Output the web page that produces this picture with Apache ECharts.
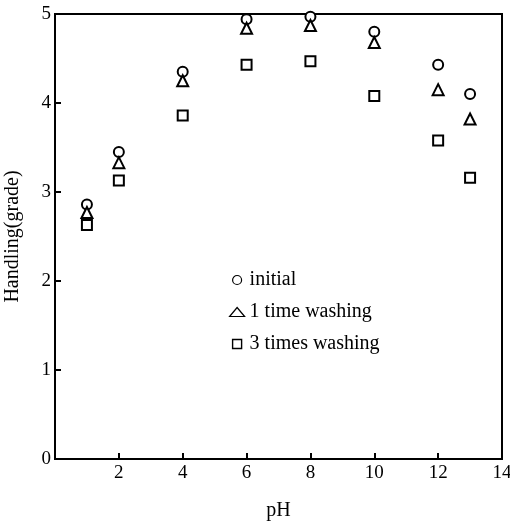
<!DOCTYPE html>
<html>
<head>
<meta charset="utf-8">
<script src="https://cdn.jsdelivr.net/npm/echarts@6/dist/echarts.min.js"></script>
<style>html,body{margin:0;padding:0;background:#fff}#c{width:510px;height:521px}</style>
</head>
<body>
<div id="c"></div>
<script>
var pH = [1, 2, 4, 6, 8, 10, 12, 13];
var initial = [2.86, 3.45, 4.35, 4.94, 4.97, 4.80, 4.43, 4.10];
var oneWash = [2.77, 3.33, 4.25, 4.84, 4.87, 4.68, 4.15, 3.82];
var threeWash = [2.63, 3.13, 3.86, 4.43, 4.47, 4.08, 3.58, 3.16];
var seriesNames = ['initial', '1 time washing', '3 times washing'];
var xTicks = [0, 2, 4, 6, 8, 10, 12, 14];
var yTicks = [0, 1, 2, 3, 4, 5];

function pairs(ys) { return pH.map(function (x, i) { return [x, ys[i]]; }); }
var font = 'Liberation Serif, Times New Roman, serif';
var squarePath = 'path://M0,0L10,0L10,10L0,10Z';
var mk = function (name, ys, symbol, size) {
  return {
    name: name, type: 'scatter', data: pairs(ys), symbol: symbol, symbolSize: size,
    itemStyle: { color: '#fff', borderColor: '#000', borderWidth: 2, opacity: 1 },
    emphasis: { disabled: true }
  };
};
var chart = echarts.init(document.getElementById('c'));
chart.setOption({
  animation: false,
  backgroundColor: '#fff',
  grid: { left: 55, right: 8, top: 14, bottom: 62, outerBoundsMode: 'none', containLabel: false,
    show: true, borderColor: '#000', borderWidth: 2, backgroundColor: 'transparent' },
  legend: {
    orient: 'vertical', left: 224, top: 265, itemWidth: 15, itemHeight: 9, itemGap: 12,
    symbolKeepAspect: true,
    data: [
      { name: seriesNames[0], icon: 'circle', itemStyle: { color: '#fff', borderColor: '#000', borderWidth: 1.2 } },
      { name: seriesNames[1], icon: 'triangle', itemStyle: { color: '#fff', borderColor: '#000', borderWidth: 1.2 } },
      { name: seriesNames[2], icon: squarePath, itemStyle: { color: '#fff', borderColor: '#000', borderWidth: 1.4 } }
    ],
    textStyle: { fontFamily: font, fontSize: 20, color: '#000', lineHeight: 20 },
    selectedMode: false
  },
  xAxis: {
    type: 'value', min: xTicks[0], max: xTicks[xTicks.length - 1], interval: 2,
    name: 'pH', nameLocation: 'middle', nameGap: 42,
    nameTextStyle: { fontFamily: font, fontSize: 20, color: '#000' },
    axisLine: { lineStyle: { color: '#000', width: 2 } },
    axisTick: { inside: true, length: 6, lineStyle: { color: '#000', width: 2 } },
    axisLabel: { fontFamily: font, fontSize: 19, color: '#000', margin: 5,
      formatter: function (v) { return v === 0 ? '' : String(v); } },
    splitLine: { show: false }
  },
  yAxis: {
    type: 'value', min: yTicks[0], max: yTicks[yTicks.length - 1], interval: 1,
    name: 'Handling(grade)', nameLocation: 'middle', nameGap: 32,
    nameTextStyle: { fontFamily: font, fontSize: 20, color: '#000' },
    axisLine: { lineStyle: { color: '#000', width: 2 } },
    axisTick: { inside: true, length: 6, lineStyle: { color: '#000', width: 2 } },
    axisLabel: { fontFamily: font, fontSize: 19, color: '#000', margin: 4 },
    splitLine: { show: false }
  },
  series: [
    mk(seriesNames[0], initial, 'circle', 10),
    mk(seriesNames[1], oneWash, 'triangle', 11),
    mk(seriesNames[2], threeWash, 'rect', 10)
  ]
});
</script>
</body>
</html>
